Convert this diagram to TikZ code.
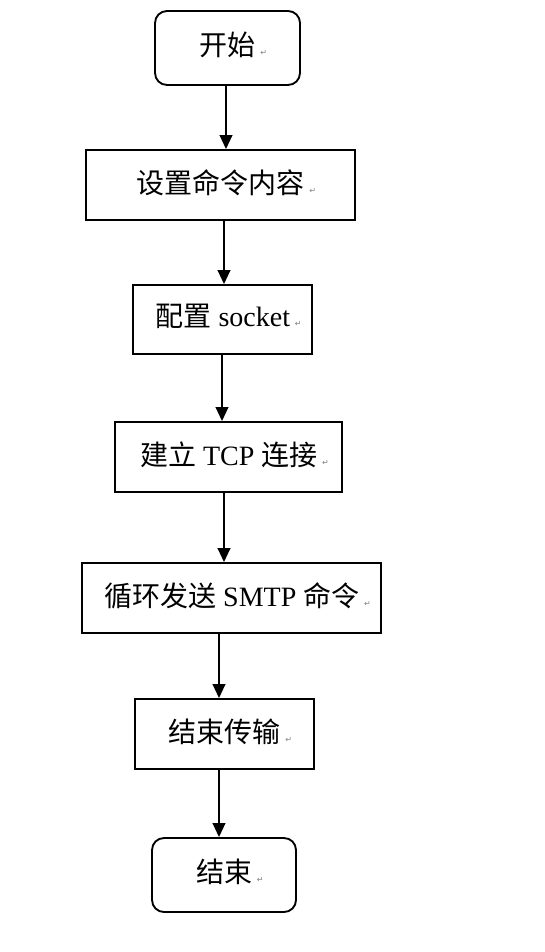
\documentclass[tikz,border=0pt]{standalone}
\usepackage{fontspec}
\setmainfont{Liberation Serif}
\newfontfamily\cjk{Noto Sans CJK SC}
\newfontfamily\symf{DejaVu Sans}
\usetikzlibrary{arrows.meta}
\newcommand\retmark{\,{\symf\fontsize{6pt}{6pt}\selectfont\textcolor{gray}{↵}}}
\begin{document}
\begin{tikzpicture}[x=0.75pt,y=-0.75pt,
  box/.style 2 args={draw,line width=1.4pt,minimum width=#1*0.75pt,minimum height=#2*0.75pt,inner sep=0pt},
  term/.style={rounded corners=9pt},
  lbl/.style={font=\fontsize{21pt}{25pt}\selectfont,inner sep=0pt,xshift=4.5pt,yshift=2pt},
  arr/.style={line width=1.4pt,-{Triangle[length=10.5pt,width=9.5pt]}}]
\useasboundingbox (0,0) rectangle (545,952);
\node[box={145}{74},term] (b1) at (227.5,48) {};
\node[box={269}{70}] (b2) at (220.5,185) {};
\node[box={179}{69}] (b3) at (222.5,319.5) {};
\node[box={227}{70}] (b4) at (228.5,457) {};
\node[box={299}{70}] (b5) at (231.5,598) {};
\node[box={179}{70}] (b6) at (224.5,734) {};
\node[box={144}{74},term] (b7) at (224,875) {};
\node[lbl] (t1) at (b1.center) {{\cjk 开始}\retmark};
\node[lbl] (t2) at (b2.center) {{\cjk 设置命令内容}\retmark};
\node[lbl] (t3) at (b3.center) {{\cjk 配置} socket\retmark};
\node[lbl] (t4) at (b4.center) {{\cjk 建立} TCP {\cjk 连接}\retmark};
\node[lbl] (t5) at (b5.center) {{\cjk 循环发送} SMTP {\cjk 命令}\retmark};
\node[lbl] (t6) at (b6.center) {{\cjk 结束传输}\retmark};
\node[lbl] (t7) at (b7.center) {{\cjk 结束}\retmark};
\draw[arr] (b1.south -| 226,0) -- (b2.north -| 226,0);
\draw[arr] (b2.south -| 224,0) -- (b3.north -| 224,0);
\draw[arr] (b3.south -| 222,0) -- (b4.north -| 222,0);
\draw[arr] (b4.south -| 224,0) -- (b5.north -| 224,0);
\draw[arr] (b5.south -| 219,0) -- (b6.north -| 219,0);
\draw[arr] (b6.south -| 219,0) -- (b7.north -| 219,0);
\end{tikzpicture}
\end{document}
